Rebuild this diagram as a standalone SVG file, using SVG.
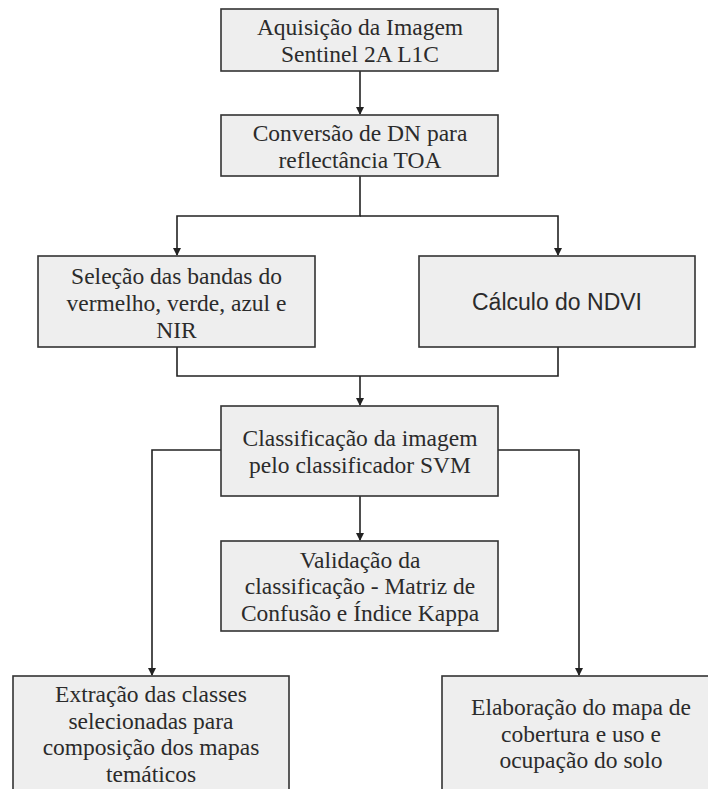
<svg xmlns="http://www.w3.org/2000/svg" width="708" height="789" viewBox="0 0 708 789">
<style>
.box{fill:#eeeeee;stroke:#333333;stroke-width:1.6}
.t{font-family:"Liberation Serif","Times New Roman",serif;font-size:23.5px;fill:#2b2b2b;text-anchor:middle}
.s{font-family:"Liberation Sans",Arial,sans-serif;font-size:23px;fill:#2b2b2b;text-anchor:middle}
.c{fill:none;stroke:#222222;stroke-width:1.6}
</style>
<defs>
<marker id="ah" markerWidth="8" markerHeight="10" refX="7" refY="4" orient="auto" markerUnits="userSpaceOnUse" viewBox="0 0 8 8">
<path d="M0,0 L8,4 L0,8 Z" fill="#222222"/>
</marker>
</defs>
<rect width="708" height="789" fill="#ffffff"/>
<g id="connectors">
<path class="c" d="M360,71 V114" marker-end="url(#ah)"/>
<path class="c" d="M360,176 V216 H177 V255" marker-end="url(#ah)"/>
<path class="c" d="M360,216 H558 V255" marker-end="url(#ah)"/>
<path class="c" d="M177,347 V376 H558 V347"/>
<path class="c" d="M360,376 V405" marker-end="url(#ah)"/>
<path class="c" d="M360,496 V540" marker-end="url(#ah)"/>
<path class="c" d="M221,450 H152 V675" marker-end="url(#ah)"/>
<path class="c" d="M498,450 H579 V675" marker-end="url(#ah)"/>
</g>
<g id="n1">
<rect class="box" x="221" y="9" width="277" height="62"/>
<text class="t" x="360" y="35">Aquisição da Imagem</text>
<text class="t" x="360" y="62">Sentinel 2A L1C</text>
</g>
<g id="n2">
<rect class="box" x="221" y="115" width="277" height="61"/>
<text class="t" x="360" y="141">Conversão de DN para</text>
<text class="t" x="360" y="168">reflectância TOA</text>
</g>
<g id="n3">
<rect class="box" x="38" y="256" width="277" height="91"/>
<text class="t" x="176.5" y="284">Seleção das bandas do</text>
<text class="t" x="176.5" y="311">vermelho, verde, azul e</text>
<text class="t" x="176.5" y="338">NIR</text>
</g>
<g id="n4">
<rect class="box" x="419" y="256" width="276" height="91"/>
<text class="s" x="557" y="310">Cálculo do NDVI</text>
</g>
<g id="n5">
<rect class="box" x="221" y="406" width="277" height="90"/>
<text class="t" x="360" y="446">Classificação da imagem</text>
<text class="t" x="360" y="473">pelo classificador SVM</text>
</g>
<g id="n6">
<rect class="box" x="221" y="541" width="277" height="90"/>
<text class="t" x="360" y="568">Validação da</text>
<text class="t" x="360" y="594">classificação - Matriz de</text>
<text class="t" x="360" y="621">Confusão e Índice Kappa</text>
</g>
<g id="n7">
<rect class="box" x="13" y="676" width="276" height="130"/>
<text class="t" x="151" y="702">Extração das classes</text>
<text class="t" x="151" y="729">selecionadas para</text>
<text class="t" x="151" y="755">composição dos mapas</text>
<text class="t" x="151" y="782">temáticos</text>
</g>
<g id="n8">
<rect class="box" x="442" y="676" width="278" height="130"/>
<text class="t" x="581" y="715">Elaboração do mapa de</text>
<text class="t" x="581" y="742">cobertura e uso e</text>
<text class="t" x="581" y="768">ocupação do solo</text>
</g>
</svg>
